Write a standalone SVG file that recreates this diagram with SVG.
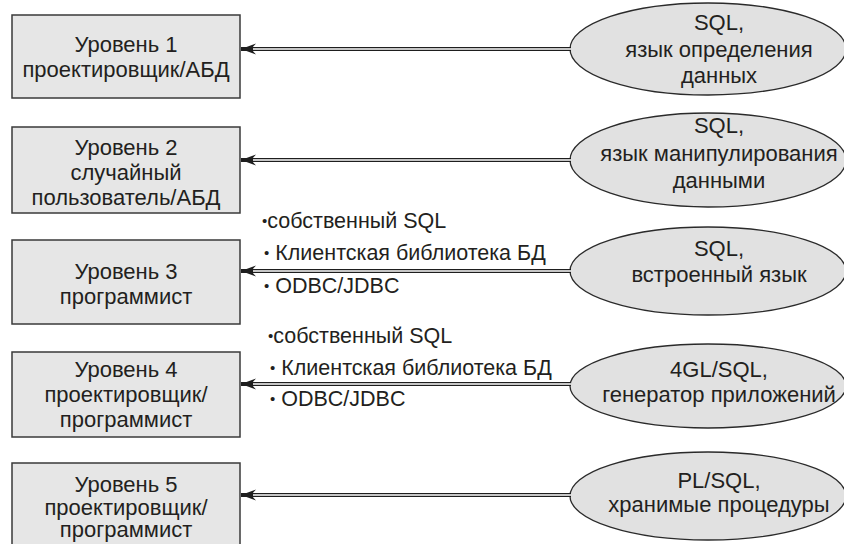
<svg xmlns="http://www.w3.org/2000/svg" width="844" height="544" viewBox="0 0 844 544">
  <style>
    .box { fill: #e6e6e6; stroke: #3a3a3a; stroke-width: 1.5; }
    .oval { fill: #e1e1e1; stroke: #2a2a2a; stroke-width: 1.3; }
    text { font-family: "Liberation Sans", Arial, sans-serif; fill: #231f20; }
    .t { font-size: 22px; text-anchor: middle; }
    .b { font-size: 21.5px; }
    .dot { font-size: 15px; }
    .rail { fill: none; stroke: #1e1e1e; stroke-width: 4; }
    .gap { fill: none; stroke: #ffffff; stroke-width: 1.4; }
  </style>
  <defs>
    <marker id="head" markerUnits="userSpaceOnUse" markerWidth="18" markerHeight="14" viewBox="-16 -7 18 14" refX="0" refY="0" orient="auto">
      <path d="M0,0 L-15,-5.5 L-10,0 L-15,5.5 Z" fill="#1e1e1e"/>
    </marker>
  </defs>

  <rect width="844" height="544" fill="#ffffff"/>

  <!-- level boxes -->
  <g id="level1">
    <rect class="box" x="12" y="15" width="228" height="83"/>
    <text class="t" x="126" y="52">Уровень 1</text>
    <text class="t" x="126" y="77">проектировщик/АБД</text>
  </g>
  <g id="level2">
    <rect class="box" x="12" y="127" width="228" height="86"/>
    <text class="t" x="126" y="155">Уровень 2</text>
    <text class="t" x="126" y="180">случайный</text>
    <text class="t" x="126" y="205">пользователь/АБД</text>
  </g>
  <g id="level3">
    <rect class="box" x="12" y="240" width="228" height="84"/>
    <text class="t" x="126" y="279">Уровень 3</text>
    <text class="t" x="126" y="304">программист</text>
  </g>
  <g id="level4">
    <rect class="box" x="12" y="352" width="228" height="85"/>
    <text class="t" x="126" y="377">Уровень 4</text>
    <text class="t" x="126" y="402">проектировщик/</text>
    <text class="t" x="126" y="427">программист</text>
  </g>
  <g id="level5">
    <rect class="box" x="12" y="463" width="228" height="86"/>
    <text class="t" x="126" y="492">Уровень 5</text>
    <text class="t" x="126" y="515">проектировщик/</text>
    <text class="t" x="126" y="537">программист</text>
  </g>

  <!-- language ovals -->
  <g id="ddl">
    <ellipse class="oval" cx="708" cy="49" rx="138" ry="46"/>
    <text class="t" x="719" y="30">SQL,</text>
    <text class="t" x="719" y="57">язык определения</text>
    <text class="t" x="719" y="83">данных</text>
  </g>
  <g id="dml">
    <ellipse class="oval" cx="708" cy="160" rx="138" ry="47"/>
    <text class="t" x="719" y="133">SQL,</text>
    <text class="t" x="719" y="161">язык манипулирования</text>
    <text class="t" x="719" y="188">данными</text>
  </g>
  <g id="embedded">
    <ellipse class="oval" cx="708" cy="271" rx="138" ry="44"/>
    <text class="t" x="719" y="256">SQL,</text>
    <text class="t" x="719" y="282">встроенный язык</text>
  </g>
  <g id="gen4gl">
    <ellipse class="oval" cx="708" cy="386" rx="138" ry="42"/>
    <text class="t" x="719" y="377">4GL/SQL,</text>
    <text class="t" x="719" y="402">генератор приложений</text>
  </g>
  <g id="plsql">
    <ellipse class="oval" cx="708" cy="496" rx="138" ry="44"/>
    <text class="t" x="719" y="488">PL/SQL,</text>
    <text class="t" x="719" y="512">хранимые процедуры</text>
  </g>

  <!-- connectors: double rail with arrowhead at the box -->
  <g id="connectors">
    <path class="rail" d="M571,49 H241" marker-end="url(#head)"/>
    <path class="gap" d="M571,49 H253"/>
    <path class="rail" d="M571,160 H241" marker-end="url(#head)"/>
    <path class="gap" d="M571,160 H253"/>
    <path class="rail" d="M571,271 H241" marker-end="url(#head)"/>
    <path class="gap" d="M571,271 H253"/>
    <path class="rail" d="M571,384 H241" marker-end="url(#head)"/>
    <path class="gap" d="M571,384 H253"/>
    <path class="rail" d="M571,495 H241" marker-end="url(#head)"/>
    <path class="gap" d="M571,495 H253"/>
  </g>

  <!-- interface notes on the embedded and 4GL links -->
  <g id="notes3">
    <text class="b" x="262" y="228"><tspan class="dot" dy="-2">•</tspan><tspan dy="2">собственный SQL</tspan></text>
    <text class="b" x="264" y="260"><tspan class="dot" dy="-2">•</tspan><tspan dy="2"> Клиентская библиотека БД</tspan></text>
    <text class="b" x="264" y="293"><tspan class="dot" dy="-2">•</tspan><tspan dy="2"> ODBC/JDBC</tspan></text>
  </g>
  <g id="notes4">
    <text class="b" x="268" y="343"><tspan class="dot" dy="-2">•</tspan><tspan dy="2">собственный SQL</tspan></text>
    <text class="b" x="270" y="375"><tspan class="dot" dy="-2">•</tspan><tspan dy="2"> Клиентская библиотека БД</tspan></text>
    <text class="b" x="270" y="406"><tspan class="dot" dy="-2">•</tspan><tspan dy="2"> ODBC/JDBC</tspan></text>
  </g>
</svg>
